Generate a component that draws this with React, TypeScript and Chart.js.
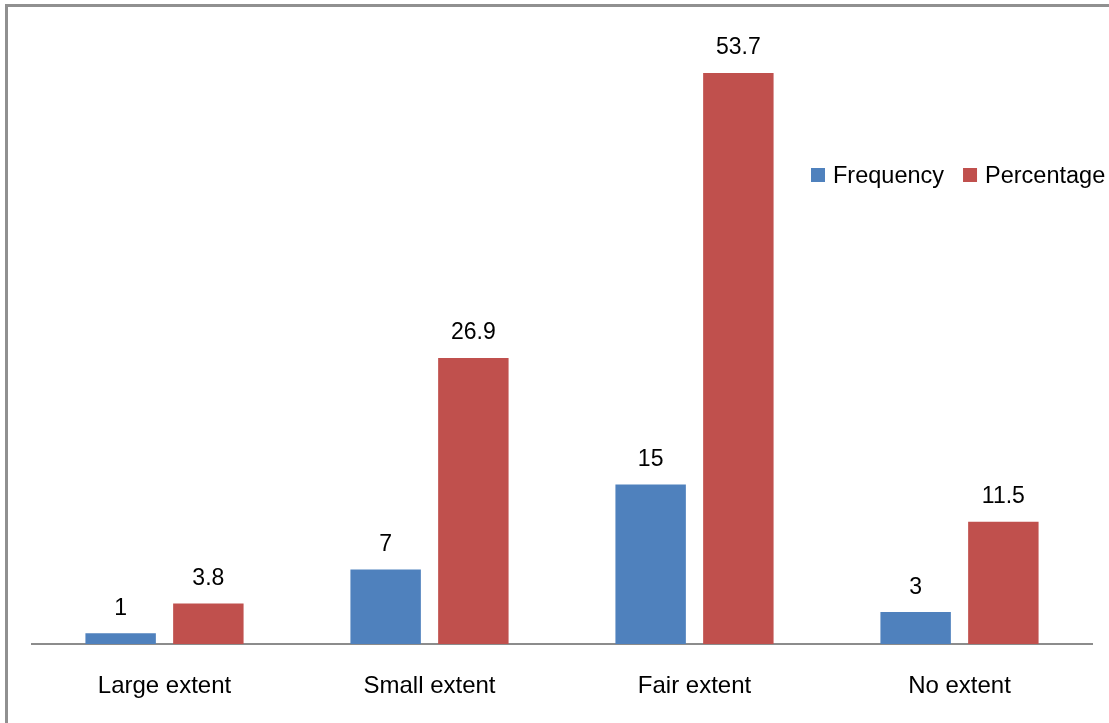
import React, { useEffect, useRef } from "react";
import { Chart, registerables } from "chart.js";

Chart.register(...registerables);

// Chart data
const categories = ["Large extent", "Small extent", "Fair extent", "No extent"];
const frequency = [1, 7, 15, 3];
const percentage = [3.8, 26.9, 53.7, 11.5];
const seriesNames = ["Frequency", "Percentage"];
const seriesColors = ["#4F81BD", "#C0504D"];

const FONT = "'Liberation Sans', Arial, sans-serif";

// Writes each bar's value above it
const valueLabels = {
  id: "valueLabels",
  afterDatasetsDraw(chart: any) {
    const ctx = chart.ctx;
    ctx.save();
    ctx.font = `23px ${FONT}`;
    ctx.fillStyle = "#000000";
    ctx.textAlign = "center";
    ctx.textBaseline = "alphabetic";
    chart.data.datasets.forEach((ds: any, i: number) => {
      const meta = chart.getDatasetMeta(i);
      meta.data.forEach((bar: any, j: number) => {
        ctx.fillText(String(ds.data[j]), bar.x, bar.y - 18.5);
      });
    });
    ctx.restore();
  },
};

// Horizontal legend at the right of the plot
const sideLegend = {
  id: "sideLegend",
  afterDraw(chart: any) {
    const ctx = chart.ctx;
    ctx.save();
    ctx.font = `23.5px ${FONT}`;
    ctx.textBaseline = "alphabetic";
    ctx.textAlign = "left";
    let x = 811;
    const baseline = 183;
    chart.data.datasets.forEach((ds: any) => {
      ctx.fillStyle = ds.backgroundColor;
      ctx.fillRect(x, 168, 14, 14);
      ctx.fillStyle = "#000000";
      const tx = x + 22;
      ctx.fillText(ds.label, tx, baseline);
      x = tx + ctx.measureText(ds.label).width + 19;
    });
    ctx.restore();
  },
};

export default function App() {
  const canvasRef = useRef<HTMLCanvasElement | null>(null);

  useEffect(() => {
    if (!canvasRef.current) return;
    const chart = new Chart(canvasRef.current, {
      type: "bar",
      data: {
        labels: categories,
        datasets: [
          {
            label: seriesNames[0],
            data: frequency,
            backgroundColor: seriesColors[0],
            categoryPercentage: 0.662,
            barPercentage: 0.803,
          },
          {
            label: seriesNames[1],
            data: percentage,
            backgroundColor: seriesColors[1],
            categoryPercentage: 0.662,
            barPercentage: 0.803,
          },
        ],
      },
      options: {
        responsive: false,
        animation: false,
        layout: { padding: { left: 32, right: 17, top: 6, bottom: 0 } },
        plugins: {
          legend: { display: false },
          tooltip: { enabled: false },
        },
        scales: {
          x: {
            grid: { display: false, drawTicks: false },
            border: { display: true, color: "#8c8c8c", width: 2 },
            ticks: {
              color: "#000000",
              font: { family: FONT, size: 24 },
              padding: 28,
            },
            afterFit(scale: any) {
              scale.height = 79;
            },
          },
          y: {
            display: false,
            min: 0,
            max: 60,
          },
        },
      },
      plugins: [valueLabels, sideLegend],
    });
    return () => chart.destroy();
  }, []);

  return (
    <div
      style={{
        position: "fixed",
        left: 0,
        top: 0,
        width: 1109,
        height: 723,
        overflow: "hidden",
        background: "#ffffff",
      }}
    >
      <canvas
        ref={canvasRef}
        width={1109}
        height={723}
        style={{ position: "absolute", left: 0, top: 0, width: 1109, height: 723 }}
      />
      <div
        style={{
          position: "absolute",
          left: 5,
          top: 4,
          width: 1200,
          height: 800,
          border: "3px solid #909090",
          pointerEvents: "none",
        }}
      />
    </div>
  );
}
